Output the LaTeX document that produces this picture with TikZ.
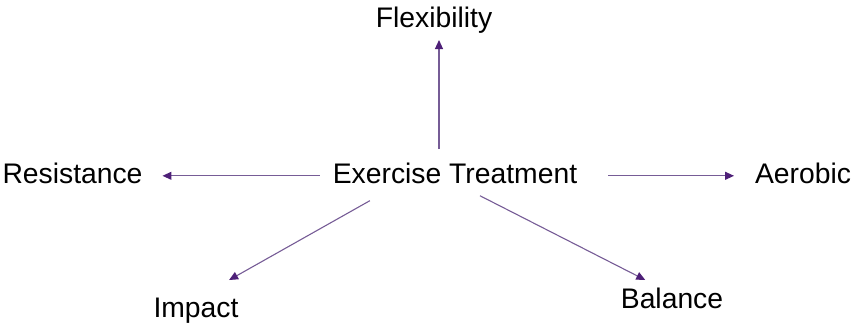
\documentclass[tikz,border=0pt]{standalone}
\usepackage{fontspec}
\setmainfont{Liberation Sans}
\usepackage{tikz}
\usetikzlibrary{arrows.meta, calc, positioning}
\definecolor{lila}{RGB}{78,32,120}
\definecolor{lilaline}{RGB}{118,92,150}
\tikzset{
    lbl/.style={anchor=base, inner sep=0pt, outer sep=0pt, text height=0.72em, text depth=0pt,
        font=\fontsize{14.15}{17}\selectfont},
    link/.style={draw=lilaline, line width=0.55pt, -{Triangle[length=4.5pt,width=4pt,color=lila]}}
}

\begin{document}
\begin{tikzpicture}[x=0.5pt, y=-0.5pt]
        \useasboundingbox (0,0) rectangle (856,323);
        \node[lbl] (ex) at (455,183) {Exercise Treatment};
        \node[lbl] (flex) at (434,27) {Flexibility};
        \node[lbl] (res) at (72.5,183) {Resistance};
        \node[lbl] (aer) at (803,183) {Aerobic};
        \node[lbl] (imp) at (196,317) {Impact};
        \node[lbl] (bal) at (672,308) {Balance};

        \draw[link, shorten <=9.8pt, shorten >=6.5pt] ([xshift=2.5pt]flex.south |- ex.north) -- ([xshift=2.5pt]flex.south);
        \draw[link, shorten <=6.5pt, shorten >=10pt] (ex.west) -- (res.east);
        \draw[link, shorten <=15.5pt, shorten >=10.5pt] (ex.east) -- (aer.west);
        \draw[link, shorten <=18pt, shorten >=23pt] ($(ex.south west)!0.28!(ex.south east)$) -- ([xshift=-3.5pt]imp.north);
        \draw[link, shorten <=14pt, shorten >=15pt] (ex.south) -- (bal.north);
      \end{tikzpicture}
\end{document}
